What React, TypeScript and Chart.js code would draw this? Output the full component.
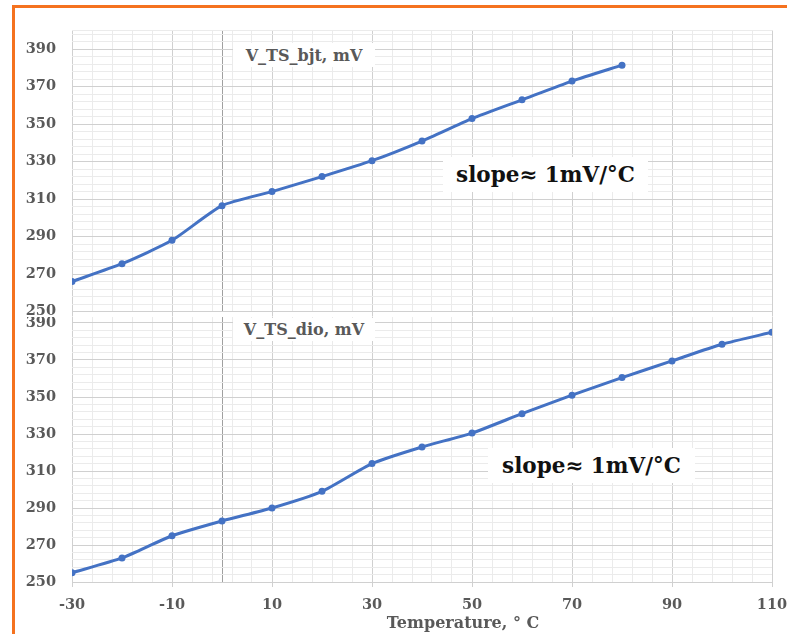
import React, { useEffect, useRef } from 'react';
import { Chart, registerables } from 'chart.js';

Chart.register(...registerables);

// ---- data ----
const temperatures = [-30, -20, -10, 0, 10, 20, 30, 40, 50, 60, 70, 80, 90, 100, 110];
const vTsBjt = [266, 275.5, 288, 306.5, 314, 322, 330.5, 341, 353, 363, 373, 381.5];
const vTsDio = [255, 263, 275, 283, 290, 299, 314, 323, 330.5, 341, 351, 360.5, 369.5, 378.5, 385];
const xMajorTicks = [-30, -10, 10, 30, 50, 70, 90, 110];
const yMajorTicks = [250, 270, 290, 310, 330, 350, 370, 390];
const topSeriesTitle = 'V_TS_bjt, mV';
const bottomSeriesTitle = 'V_TS_dio, mV';
const slopeNote = 'slope≈ 1mV/°C';
const xAxisTitle = 'Temperature, ° C';

// ---- style ----
const X_MIN = -30, X_MAX = 110, Y_MIN = 250, Y_MAX = 400, MINOR_STEP = 4;
const FONT = "'DejaVu Serif', 'Liberation Serif', serif";
const LINE_BLUE = '#4472C4';
const MAJOR_GRID = '#d0d0d0';
const MINOR_GRID = '#ebebeb';
const AXIS_ZERO = '#a0a0a0';
const LABEL_GREY = '#595959';

function xGridValues() {
  const vals: number[] = [];
  for (let v = X_MIN; v <= X_MAX; v += MINOR_STEP) vals.push(v);
  xMajorTicks.forEach((v) => { if (!vals.includes(v)) vals.push(v); });
  if (!vals.includes(0)) vals.push(0);
  return vals.sort((a, b) => a - b);
}
function yGridValues() {
  const vals: number[] = [];
  for (let v = Y_MIN; v <= Y_MAX; v += MINOR_STEP) vals.push(v);
  yMajorTicks.forEach((v) => { if (!vals.includes(v)) vals.push(v); });
  if (!vals.includes(Y_MAX)) vals.push(Y_MAX);
  return vals.sort((a, b) => a - b);
}

function makeConfig(values: number[], showXLabels: boolean, padTop: number, xAxisHeight: number): any {
  const points = values.map((v, i) => ({ x: temperatures[i], y: v }));
  return {
    type: 'line',
    data: {
      datasets: [
        {
          data: points,
          borderColor: LINE_BLUE,
          backgroundColor: LINE_BLUE,
          borderWidth: 3,
          pointRadius: 3.5,
          pointBorderWidth: 0,
          pointBackgroundColor: LINE_BLUE,
          tension: 0.2,
          fill: false,
        },
      ],
    },
    options: {
      animation: false,
      responsive: false,
      devicePixelRatio: 1,
      layout: { padding: { top: padTop, right: 15, left: 0, bottom: 0 } },
      plugins: { legend: { display: false }, tooltip: { enabled: false }, title: { display: false } },
      scales: {
        x: {
          type: 'linear',
          min: X_MIN,
          max: X_MAX,
          border: { display: false },
          afterBuildTicks: (s: any) => { s.ticks = xGridValues().map((v) => ({ value: v })); },
          afterFit: (s: any) => { s.height = xAxisHeight; s.paddingLeft = 0; s.paddingRight = 0; },
          grid: {
            color: (c: any) => {
              const v = c.tick?.value;
              if (v === 0) return AXIS_ZERO;
              return xMajorTicks.includes(v) ? MAJOR_GRID : MINOR_GRID;
            },
            lineWidth: 1,
            drawTicks: true,
            tickLength: 5,
            tickColor: (c: any) => (xMajorTicks.includes(c.tick?.value) ? MAJOR_GRID : 'rgba(0,0,0,0)'),
          },
          ticks: {
            display: showXLabels,
            autoSkip: false,
            maxRotation: 0,
            padding: 10,
            color: LABEL_GREY,
            font: { family: FONT, size: 14.5, weight: 'bold' },
            callback: (v: any) => (xMajorTicks.includes(v) ? String(v) : ''),
          },
        },
        y: {
          type: 'linear',
          min: Y_MIN,
          max: Y_MAX,
          border: { display: false },
          afterBuildTicks: (s: any) => { s.ticks = yGridValues().map((v) => ({ value: v })); },
          afterFit: (s: any) => { s.width = 56; s.paddingTop = 0; s.paddingBottom = 0; },
          grid: {
            color: (c: any) => (yMajorTicks.includes(c.tick?.value) ? MAJOR_GRID : MINOR_GRID),
            lineWidth: 1,
            drawTicks: false,
          },
          ticks: {
            autoSkip: false,
            padding: 16,
            color: LABEL_GREY,
            font: { family: FONT, size: 14.5, weight: 'bold' },
            callback: (v: any) => (yMajorTicks.includes(v) ? String(v) : ''),
          },
        },
      },
    },
  };
}

function LineCanvas(props: { values: number[]; showX: boolean; padTop: number; xH: number; style: any; w: number; h: number }) {
  const ref = useRef<HTMLCanvasElement | null>(null);
  useEffect(() => {
    if (!ref.current) return;
    const chart = new Chart(ref.current, makeConfig(props.values, props.showX, props.padTop, props.xH));
    return () => chart.destroy();
  }, []);
  return <canvas ref={ref} width={props.w} height={props.h} style={{ position: 'absolute', background: '#fff', width: props.w, height: props.h, ...props.style }} />;
}

const boxStyle: any = {
  position: 'absolute',
  background: '#fff',
  display: 'flex',
  alignItems: 'center',
  justifyContent: 'center',
  fontFamily: FONT,
  fontWeight: 'bold',
  whiteSpace: 'nowrap',
  zIndex: 5,
};

export default function App() {
  return (
    <div style={{ position: 'absolute', left: 0, top: 0, width: 787, height: 634, background: '#fff', overflow: 'hidden' }}>
      <LineCanvas values={vTsDio} showX={true} padTop={8.5} xH={52} w={771} h={338} style={{ left: 16, top: 296, zIndex: 1 }} />
      <LineCanvas values={vTsBjt} showX={false} padTop={22.5} xH={5.5} w={771} h={309} style={{ left: 16, top: 8, zIndex: 2 }} />

      <div style={{ ...boxStyle, left: 233, top: 43, width: 142, height: 24, fontSize: 16, color: LABEL_GREY }}>{topSeriesTitle}</div>
      <div style={{ ...boxStyle, left: 233, top: 318, width: 142, height: 23, fontSize: 16, color: LABEL_GREY }}>{bottomSeriesTitle}</div>

      <div style={{ ...boxStyle, left: 443, top: 157, width: 205, height: 35, fontSize: 21.5, color: '#111' }}>{slopeNote}</div>
      <div style={{ ...boxStyle, left: 488, top: 448, width: 207, height: 35, fontSize: 21.5, color: '#111' }}>{slopeNote}</div>

      <div style={{ position: 'absolute', left: 463, top: 622, transform: 'translate(-50%, -50%)', fontFamily: FONT, fontWeight: 'bold', fontSize: 16, color: LABEL_GREY, whiteSpace: 'nowrap', zIndex: 5 }}>{xAxisTitle}</div>

      <div style={{ position: 'absolute', left: 12, top: 5, width: 800, height: 700, borderLeft: '3px solid #F5721F', borderTop: '3px solid #F5721F', zIndex: 10, pointerEvents: 'none' }} />
    </div>
  );
}
